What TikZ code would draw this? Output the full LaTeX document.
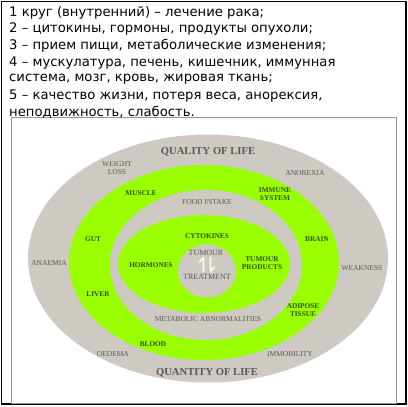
\documentclass[tikz,border=0pt]{standalone}
\usepackage{fontspec}
\setmainfont{Liberation Serif}
\newfontfamily\hdrfont{DejaVu Sans}
\definecolor{ringgray}{RGB}{206,201,195}
\definecolor{ringgreen}{RGB}{153,255,0}
\definecolor{txtgray}{RGB}{90,87,85}
\definecolor{txtgreen}{RGB}{50,80,0}
\definecolor{boxgray}{RGB}{150,150,150}
\definecolor{cream}{RGB}{252,248,232}
\tikzset{
  hdr/.style={anchor=west,inner sep=0pt,font=\hdrfont\fontsize{13.2}{13.2}\selectfont,text=black},
  graylbl/.style={inner sep=0pt,align=center,font=\fontsize{7.5}{8}\selectfont,text=txtgray},
  greenlbl/.style={inner sep=0pt,align=center,font=\fontsize{7.3}{8}\selectfont\bfseries,text=txtgreen},
  title/.style={inner sep=0pt,font=\fontsize{10.6}{11}\selectfont\bfseries,text=txtgray},
  harp/.style={draw=cream,line width=1.8pt,line cap=round,line join=round},
}
\begin{document}
\begin{tikzpicture}[x=1pt,y=-1pt]
\useasboundingbox (0,0) rectangle (408,407);
\fill[white] (0,0) rectangle (408,407);
\draw[black,line width=1.2pt] (1.5,1.5) rectangle (406,404);
\draw[boxgray,line width=0.8pt] (11,117.5) rectangle (396,403);
% header lines
\node[hdr] (l1) at (9,12.5) {1 круг (внутренний) – лечение рака;};
\node[hdr] (l2) at (9,29.2) {2 – цитокины, гормоны, продукты опухоли;};
\node[hdr] (l3) at (9,45.9) {3 – прием пищи, метаболические изменения;};
\node[hdr] (l4) at (9,62.6) {4 – мускулатура, печень, кишечник, иммунная};
\node[hdr] (l5) at (9,79.3) {система, мозг, кровь, жировая ткань;};
\node[hdr] (l6) at (9,96.0) {5 – качество жизни, потеря веса, анорексия,};
\node[hdr] (l7) at (9,112.7) {неподвижность, слабость.};
% rings
\fill[ringgray] (208,258.5) ellipse [x radius=180,y radius=124];
\fill[ringgreen] (204,262.5) ellipse [x radius=135,y radius=97.5];
\fill[ringgray] (206,265) ellipse [x radius=96,y radius=75];
\fill[ringgreen] (204,264) ellipse [x radius=86,y radius=49];
\fill[ringgray] (207,271) ellipse [x radius=29,y radius=26.5];
% outer ring labels
\node[title] (qual) at (208,152) {QUALITY OF LIFE};
\node[title] (quan) at (207,373) {QUANTITY OF LIFE};
\node[graylbl] (wl) at (117,168.5) {WEIGHT\\LOSS};
\node[graylbl] (anor) at (305,173) {ANOREXIA};
\node[graylbl] (anae) at (49,263) {ANAEMIA};
\node[graylbl] (weak) at (362,268) {WEAKNESS};
\node[graylbl] (oed) at (113,354) {OEDEMA};
\node[graylbl] (immob) at (290,354) {IMMOBILITY};
% green ring labels
\node[greenlbl] (musc) at (141,193) {MUSCLE};
\node[greenlbl] (imm) at (275,194.5) {IMMUNE\\SYSTEM};
\node[greenlbl] (gut) at (93,239) {GUT};
\node[greenlbl] (brain) at (317,239) {BRAIN};
\node[greenlbl] (liver) at (98,294) {LIVER};
\node[greenlbl] (adip) at (303,310.5) {ADIPOSE\\TISSUE};
\node[greenlbl] (blood) at (153,344) {BLOOD};
% middle gray ring labels
\node[graylbl] (food) at (207,202) {FOOD INTAKE};
\node[graylbl] (meta) at (208,319) {METABOLIC ABNORMALITIES};
% inner green labels
\node[greenlbl] (cyto) at (207,236) {CYTOKINES};
\node[greenlbl] (horm) at (151,265) {HORMONES};
\node[greenlbl] (tprod) at (262,263.5) {TUMOUR\\PRODUCTS};
% centre
\node[graylbl,font=\fontsize{8}{8.5}\selectfont] (tum) at (206,253) {TUMOUR};
\node[graylbl,font=\fontsize{8}{8.5}\selectfont] (treat) at (207,277) {TREATMENT};
% harpoons
\draw[harp] (203.5,271.5) -- (203.5,257.5) -- (199.5,262);
\draw[harp] (210.5,257.5) -- (210.5,271.5) -- (214.5,267);
\end{tikzpicture}
\end{document}
